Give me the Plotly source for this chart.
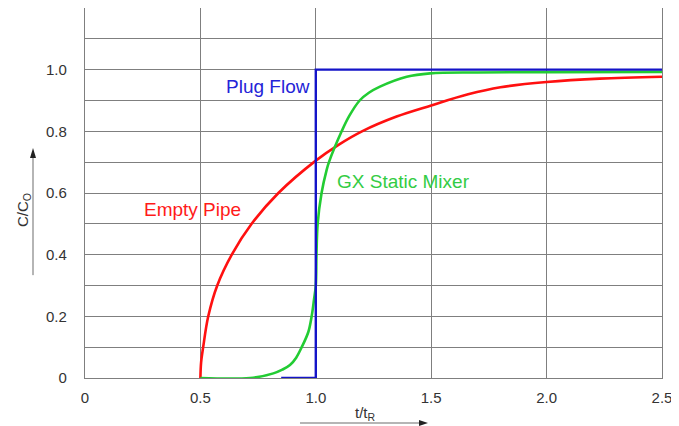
import plotly.graph_objects as go

# ---- data ----
plug_x = [0.85, 1.0, 1.0, 2.5]
plug_y = [0.0, 0.0, 1.0, 1.0]

gx_x = [0.5, 0.715, 0.816, 0.855, 0.888, 0.915, 0.939, 0.968, 0.982, 0.992, 1.0, 1.003, 1.008,
        1.025, 1.047, 1.057, 1.112, 1.145, 1.19, 1.23, 1.278, 1.394, 1.495, 1.7, 2.0, 2.5]
gx_y = [0.0, 0.0, 0.015, 0.027, 0.042, 0.066, 0.10, 0.15, 0.20, 0.253, 0.30, 0.40, 0.50,
        0.60, 0.675, 0.70, 0.80, 0.85, 0.90, 0.925, 0.945, 0.977, 0.988, 0.991, 0.992, 0.993]

pipe_x = [0.5, 0.503, 0.512, 0.534, 0.573, 0.636, 0.722, 0.838, 1.0, 1.1, 1.2,
          1.35, 1.5, 1.66, 1.8, 2.0, 2.23, 2.5]
pipe_y = [0.0, 0.05, 0.10, 0.20, 0.30, 0.40, 0.50, 0.60, 0.705, 0.757, 0.80,
          0.848, 0.884, 0.92, 0.943, 0.96, 0.971, 0.977]

y_tickvals = [0, 0.1, 0.2, 0.3, 0.4, 0.5, 0.6, 0.7, 0.8, 0.9, 1.0, 1.1, 1.2]
y_ticktext = ["0", "", "0.2", "", "0.4", "", "0.6", "", "0.8", "", "1.0", "", ""]
x_tickvals = [0, 0.5, 1.0, 1.5, 2.0, 2.5]
x_ticktext = ["0", "0.5", "1.0", "1.5", "2.0", "2.5"]

labels = ["Plug Flow", "GX Static Mixer", "Empty Pipe"]
label_x = [0.793, 1.380, 0.466]
label_y = [0.944, 0.637, 0.545]
label_colors = ["#2424d8", "#33cc44", "#ff1a1a"]

FONT = "Liberation Sans, Arial, Helvetica, sans-serif"
GRID = "#7f7f7f"
TXT = "#333333"

fig = go.Figure()
fig.add_trace(go.Scatter(x=pipe_x, y=pipe_y, mode="lines",
                         line=dict(color="#ff1010", width=2.6, shape="spline", smoothing=1.0),
                         showlegend=False, hoverinfo="skip"))
fig.add_trace(go.Scatter(x=gx_x, y=gx_y, mode="lines",
                         line=dict(color="#22cc33", width=2.6, shape="spline", smoothing=1.0),
                         showlegend=False, hoverinfo="skip"))
fig.add_trace(go.Scatter(x=plug_x, y=plug_y, mode="lines",
                         line=dict(color="#1414c8", width=2.4),
                         showlegend=False, hoverinfo="skip"))

for t, x, y, c in zip(labels, label_x, label_y, label_colors):
    fig.add_annotation(x=x, y=y, xref="x", yref="y", text=t, showarrow=False,
                       xanchor="center", yanchor="middle",
                       font=dict(family=FONT, size=19, color=c))

# axis titles
fig.add_annotation(x=0.487, y=-0.095, xref="paper", yref="paper", text="t/t<sub>R</sub>",
                   showarrow=False, xanchor="center", yanchor="middle",
                   font=dict(family=FONT, size=15, color=TXT))
fig.add_annotation(x=-0.1075, y=0.454, xref="paper", yref="paper", text="C/C<sub>O</sub>",
                   showarrow=False, textangle=-90, xanchor="center", yanchor="middle",
                   font=dict(family=FONT, size=15, color=TXT))

# arrows near axis titles (line + triangular head)
fig.add_shape(type="line", xref="paper", yref="paper", x0=0.3726, x1=0.58, y0=-0.1216, y1=-0.1216,
              line=dict(color="#b5b5b5", width=2))
fig.add_shape(type="path", xref="paper", yref="paper",
              path="M 0.5945 -0.1216 L 0.5789 -0.1135 L 0.5789 -0.1297 Z",
              fillcolor="#222222", line=dict(width=0))
fig.add_shape(type="line", xref="paper", yref="paper", x0=-0.0901, x1=-0.0901, y0=0.278, y1=0.60,
              line=dict(color="#b5b5b5", width=2))
fig.add_shape(type="path", xref="paper", yref="paper",
              path="M -0.0901 0.6216 L -0.0953 0.5946 L -0.0849 0.5946 Z",
              fillcolor="#222222", line=dict(width=0))

# page body adds an 8px offset, so the figure is 8px smaller and its margins shifted
fig.update_layout(
    width=671, height=418,
    margin=dict(l=77, r=17, t=0, b=48, autoexpand=False),
    paper_bgcolor="white", plot_bgcolor="white",
    font=dict(family=FONT, size=15, color=TXT),
    showlegend=False,
)
fig.update_xaxes(range=[0, 2.5], tickvals=x_tickvals, ticktext=x_ticktext,
                 showgrid=True, gridcolor=GRID, gridwidth=1.3, automargin=False,
                 showline=True, linecolor=GRID, linewidth=1.3, mirror=True,
                 zeroline=False, ticks="", ticklabelstandoff=6,
                 tickfont=dict(family=FONT, size=15, color=TXT))
fig.update_yaxes(range=[0, 1.2], tickvals=y_tickvals, ticktext=y_ticktext,
                 showgrid=True, gridcolor=GRID, gridwidth=1.3, automargin=False,
                 showline=True, linecolor=GRID, linewidth=1.3, mirror=True,
                 zeroline=False, ticks="", ticklabelstandoff=14,
                 tickfont=dict(family=FONT, size=15, color=TXT))

fig.write_html("out.html")
